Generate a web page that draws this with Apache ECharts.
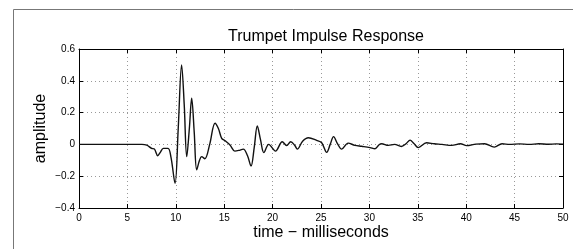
<!DOCTYPE html>
<html>
<head>
<meta charset="utf-8">
<script src="https://cdn.jsdelivr.net/npm/echarts@6/dist/echarts.min.js"></script>
<style>
  html, body { margin: 0; padding: 0; background: #fff; }
  #chart { width: 573px; height: 249px; }
</style>
</head>
<body>
<div id="chart"></div>
<script>
// time (ms) and amplitude
const times = [0, 6.5, 7.0, 7.5, 7.8, 8.13, 8.4, 8.71, 9.2, 9.5, 9.92, 10.25, 10.6, 10.87, 11.13, 11.4, 11.64, 11.9, 12.16, 12.45, 12.67, 13.0, 13.5, 14.05, 14.4, 14.74, 15.1, 15.6, 16.1, 16.5, 16.97, 17.4, 17.77, 18.1, 18.42, 18.75, 19.1, 19.6, 20.3, 21.0, 21.45, 21.87, 22.3, 22.55, 23.1, 23.7, 24.55, 25.07, 25.59, 25.95, 26.3, 26.7, 27.13, 27.8, 28.5, 29.2, 30.06, 30.58, 31.0, 31.27, 31.95, 32.6, 33.3, 33.8, 34.2, 34.6, 35.05, 35.9, 36.7, 37.5, 38.5, 39.4, 40.05, 41.0, 41.9, 42.9, 43.7, 44.5, 45.5, 46.5, 47.5, 48.5, 49.3, 50];
const amps = [0, 0, -0.005, -0.025, -0.03, -0.071, -0.05, -0.025, -0.025, -0.08, -0.245, 0.10, 0.50, 0.25, -0.077, 0.10, 0.29, 0.08, -0.16, -0.10, -0.077, -0.09, 0.0, 0.133, 0.10, 0.038, 0.023, -0.004, -0.042, -0.038, -0.03, -0.07, -0.136, -0.02, 0.116, 0.03, -0.052, 0.0, -0.042, 0.017, -0.007, 0.017, -0.007, -0.03, 0.02, 0.042, 0.025, 0.01, -0.05, 0.0, 0.049, 0.005, -0.03, 0.008, -0.006, -0.012, -0.02, -0.027, -0.002, 0.004, -0.006, 0.0, -0.013, 0.005, 0.027, 0.005, -0.02, 0.01, 0.004, 0, -0.006, 0.004, -0.008, 0.002, 0.004, -0.017, 0.004, 0.0, 0.003, 0.0, 0.004, 0.001, 0.003, 0.002];
const xTicks = [0, 5, 10, 15, 20, 25, 30, 35, 40, 45, 50];
const yTicks = [-0.4, -0.2, 0, 0.2, 0.4, 0.6];

const font = '"Liberation Sans", Arial, Helvetica, sans-serif';
const fmtY = v => (v < 0 ? '\u2212' + Math.abs(v) : String(v));

const chart = echarts.init(document.getElementById('chart'), null, { renderer: 'canvas' });

const gridLine = { show: true, lineStyle: { color: '#999', type: [1, 3], width: 1 } };
const tickIn = { show: true, inside: true, length: 4, lineStyle: { color: '#000' } };
const axLine = { show: true, onZero: false, lineStyle: { color: '#000', width: 1 } };

chart.setOption({
  animation: false,
  backgroundColor: '#fff',
  title: {
    text: 'Trumpet Impulse Response',
    left: 321,
    top: 24,
    textAlign: 'center',
    textStyle: { fontFamily: font, fontSize: 16, fontWeight: 'normal', color: '#000' }
  },
  graphic: [{
    type: 'rect',
    shape: { x: 13.5, y: 9.5, width: 620, height: 300 },
    style: { fill: 'none', stroke: '#777', lineWidth: 1 },
    silent: true
  }],
  grid: { left: 79, right: 10, top: 49, bottom: 41, containLabel: false, outerBoundsMode: 'none' },
  xAxis: [{
    type: 'value',
    min: xTicks[0], max: xTicks[xTicks.length - 1], interval: 5,
    name: 'time \u2212 milliseconds',
    nameLocation: 'middle', nameGap: 17, nameMoveOverlap: false,
    nameTextStyle: { fontFamily: font, fontSize: 16, color: '#000' },
    axisLine: axLine, axisTick: tickIn, splitLine: gridLine,
    axisLabel: { fontFamily: font, fontSize: 10, color: '#000', margin: 5 }
  }, {
    type: 'value', position: 'top',
    min: xTicks[0], max: xTicks[xTicks.length - 1], interval: 5,
    axisLine: axLine, axisTick: tickIn, splitLine: { show: false },
    axisLabel: { show: false }
  }],
  yAxis: [{
    type: 'value',
    min: yTicks[0], max: yTicks[yTicks.length - 1], interval: 0.2,
    name: 'amplitude',
    nameLocation: 'middle', nameGap: 30, nameMoveOverlap: false,
    nameTextStyle: { fontFamily: font, fontSize: 16, color: '#000' },
    axisLine: axLine, axisTick: tickIn, splitLine: gridLine,
    axisLabel: { fontFamily: font, fontSize: 10, color: '#000', margin: 4,
      formatter: v => fmtY(Math.round(v * 10) / 10) }
  }, {
    type: 'value', position: 'right',
    min: yTicks[0], max: yTicks[yTicks.length - 1], interval: 0.2,
    axisLine: axLine, axisTick: tickIn, splitLine: { show: false },
    axisLabel: { show: false }
  }],
  series: [{
    type: 'line',
    data: times.map((t, i) => [t, amps[i]]),
    smooth: 0.35,
    symbol: 'none',
    lineStyle: { color: '#111', width: 1.4 }
  }]
});
</script>
</body>
</html>
